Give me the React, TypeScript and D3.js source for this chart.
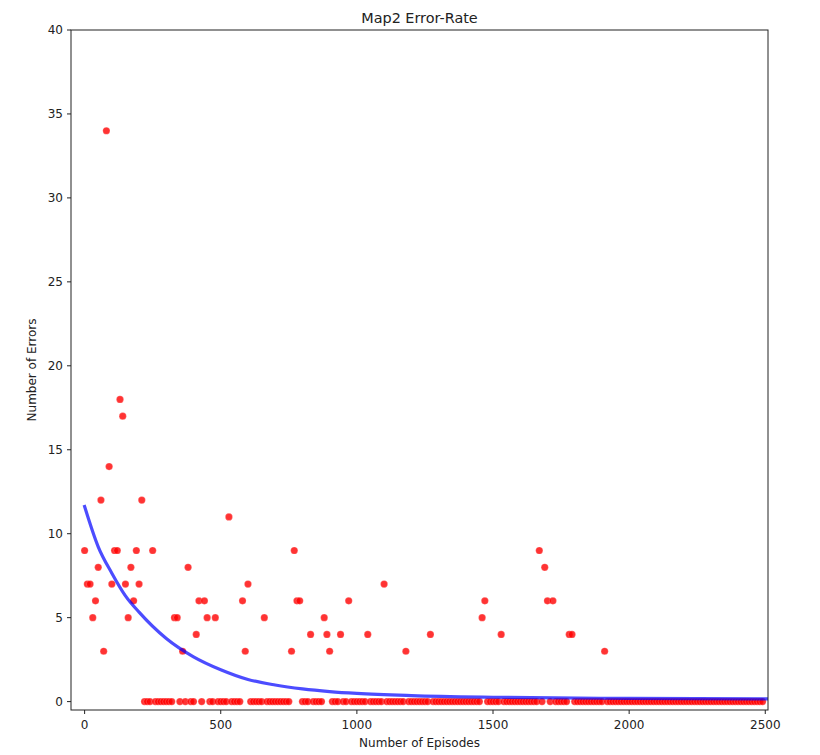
import React from "react";
import * as d3 from "d3";

// Errors recorded every 10 episodes (index i -> episode i*10), 25 rows of 100 episodes
const EPISODE_STEP = 10;
const ERRORS: number[] = [
  9, 7, 7, 5, 6, 8, 12, 3, 34, 14,
  7, 9, 9, 18, 17, 7, 5, 8, 6, 9,
  7, 12, 0, 0, 0, 9, 0, 0, 0, 0,
  0, 0, 0, 5, 5, 0, 3, 0, 8, 0,
  0, 4, 6, 0, 6, 5, 0, 0, 5, 0,
  0, 0, 0, 11, 0, 0, 0, 0, 6, 3,
  7, 0, 0, 0, 0, 0, 5, 0, 0, 0,
  0, 0, 0, 0, 0, 0, 3, 9, 6, 6,
  0, 0, 0, 4, 0, 0, 0, 0, 5, 4,
  3, 0, 0, 0, 4, 0, 0, 6, 0, 0,
  0, 0, 0, 0, 4, 0, 0, 0, 0, 0,
  7, 0, 0, 0, 0, 0, 0, 0, 3, 0,
  0, 0, 0, 0, 0, 0, 0, 4, 0, 0,
  0, 0, 0, 0, 0, 0, 0, 0, 0, 0,
  0, 0, 0, 0, 0, 0, 5, 6, 0, 0,
  0, 0, 0, 4, 0, 0, 0, 0, 0, 0,
  0, 0, 0, 0, 0, 0, 0, 9, 0, 8,
  6, 0, 6, 0, 0, 0, 0, 0, 4, 4,
  0, 0, 0, 0, 0, 0, 0, 0, 0, 0,
  0, 3, 0, 0, 0, 0, 0, 0, 0, 0,
  0, 0, 0, 0, 0, 0, 0, 0, 0, 0,
  0, 0, 0, 0, 0, 0, 0, 0, 0, 0,
  0, 0, 0, 0, 0, 0, 0, 0, 0, 0,
  0, 0, 0, 0, 0, 0, 0, 0, 0, 0,
  0, 0, 0, 0, 0, 0, 0, 0, 0, 0,
];

// Fitted decay curve
const FIT_EPISODES = [0, 50, 100, 150, 200, 300, 400, 500, 600, 700, 800, 900, 1000, 1200, 1500, 2000, 2510];
const FIT_ERRORS = [11.62, 9.22, 7.65, 6.3, 5.33, 3.76, 2.67, 1.9, 1.32, 0.99, 0.76, 0.6, 0.49, 0.36, 0.26, 0.19, 0.16];

const X_TICKS = [0, 500, 1000, 1500, 2000, 2500];
const Y_TICKS = [0, 5, 10, 15, 20, 25, 30, 35, 40];
const X_DOMAIN = [-50, 2510];
const Y_DOMAIN = [-0.5, 40];

const TITLE = "Map2 Error-Rate";
const X_LABEL = "Number of Episodes";
const Y_LABEL = "Number of Errors";

const W = 820;
const H = 755;
const M = { left: 71, right: 768, top: 30, bottom: 710 };
const FONT = "'DejaVu Sans', sans-serif";

export default function App() {
  const x = d3.scaleLinear().domain(X_DOMAIN).range([M.left, M.right]);
  const y = d3.scaleLinear().domain(Y_DOMAIN).range([M.bottom, M.top]);

  const points = ERRORS.map((e, i) => ({ ep: i * EPISODE_STEP, e }));
  const fit = FIT_EPISODES.map((ep, i) => [ep, FIT_ERRORS[i]] as [number, number]);
  const line = d3
    .line<[number, number]>()
    .x((d) => x(d[0]))
    .y((d) => y(d[1]))
    .curve(d3.curveMonotoneX);

  return (
    <svg
      width={W}
      height={H}
      style={{ position: "absolute", left: 0, top: 0, background: "#fff" }}
      fontFamily={FONT}
    >
      <defs>
        <clipPath id="plotclip">
          <rect x={M.left} y={M.top} width={M.right - M.left} height={M.bottom - M.top} />
        </clipPath>
      </defs>
      <rect x={0} y={0} width={W} height={H} fill="#fff" />
      <g clipPath="url(#plotclip)">
        {points.map((p, i) => (
          <circle
            key={i}
            cx={x(p.ep)}
            cy={y(p.e)}
            r={3.6}
            fill="rgb(255,0,0)"
            fillOpacity={0.8}
            stroke="#fff"
            strokeWidth={0.4}
            strokeOpacity={0.5}
          />
        ))}
        <path
          d={line(fit) || ""}
          fill="none"
          stroke="rgb(0,0,255)"
          strokeOpacity={0.7}
          strokeWidth={3.2}
          strokeLinecap="square"
        />
      </g>
      {/* spines */}
      <rect
        x={M.left}
        y={M.top}
        width={M.right - M.left}
        height={M.bottom - M.top}
        fill="none"
        stroke="#222"
        strokeWidth={1}
      />
      {/* x ticks */}
      {X_TICKS.map((t) => (
        <g key={"x" + t}>
          <line x1={x(t)} x2={x(t)} y1={M.bottom} y2={M.bottom + 4} stroke="#222" strokeWidth={1} />
          <text x={x(t)} y={M.bottom + 19} fontSize={12} textAnchor="middle" fill="#222">
            {t}
          </text>
        </g>
      ))}
      {/* y ticks */}
      {Y_TICKS.map((t) => (
        <g key={"y" + t}>
          <line x1={M.left - 4} x2={M.left} y1={y(t)} y2={y(t)} stroke="#222" strokeWidth={1} />
          <text x={M.left - 8} y={y(t) + 4.3} fontSize={12} textAnchor="end" fill="#222">
            {t}
          </text>
        </g>
      ))}
      <text x={(M.left + M.right) / 2} y={23} fontSize={14.4} textAnchor="middle" fill="#222">
        {TITLE}
      </text>
      <text x={(M.left + M.right) / 2} y={747} fontSize={12} textAnchor="middle" fill="#222">
        {X_LABEL}
      </text>
      <text
        transform={`translate(36,${(M.top + M.bottom) / 2}) rotate(-90)`}
        fontSize={12}
        textAnchor="middle"
        fill="#222"
      >
        {Y_LABEL}
      </text>
    </svg>
  );
}
